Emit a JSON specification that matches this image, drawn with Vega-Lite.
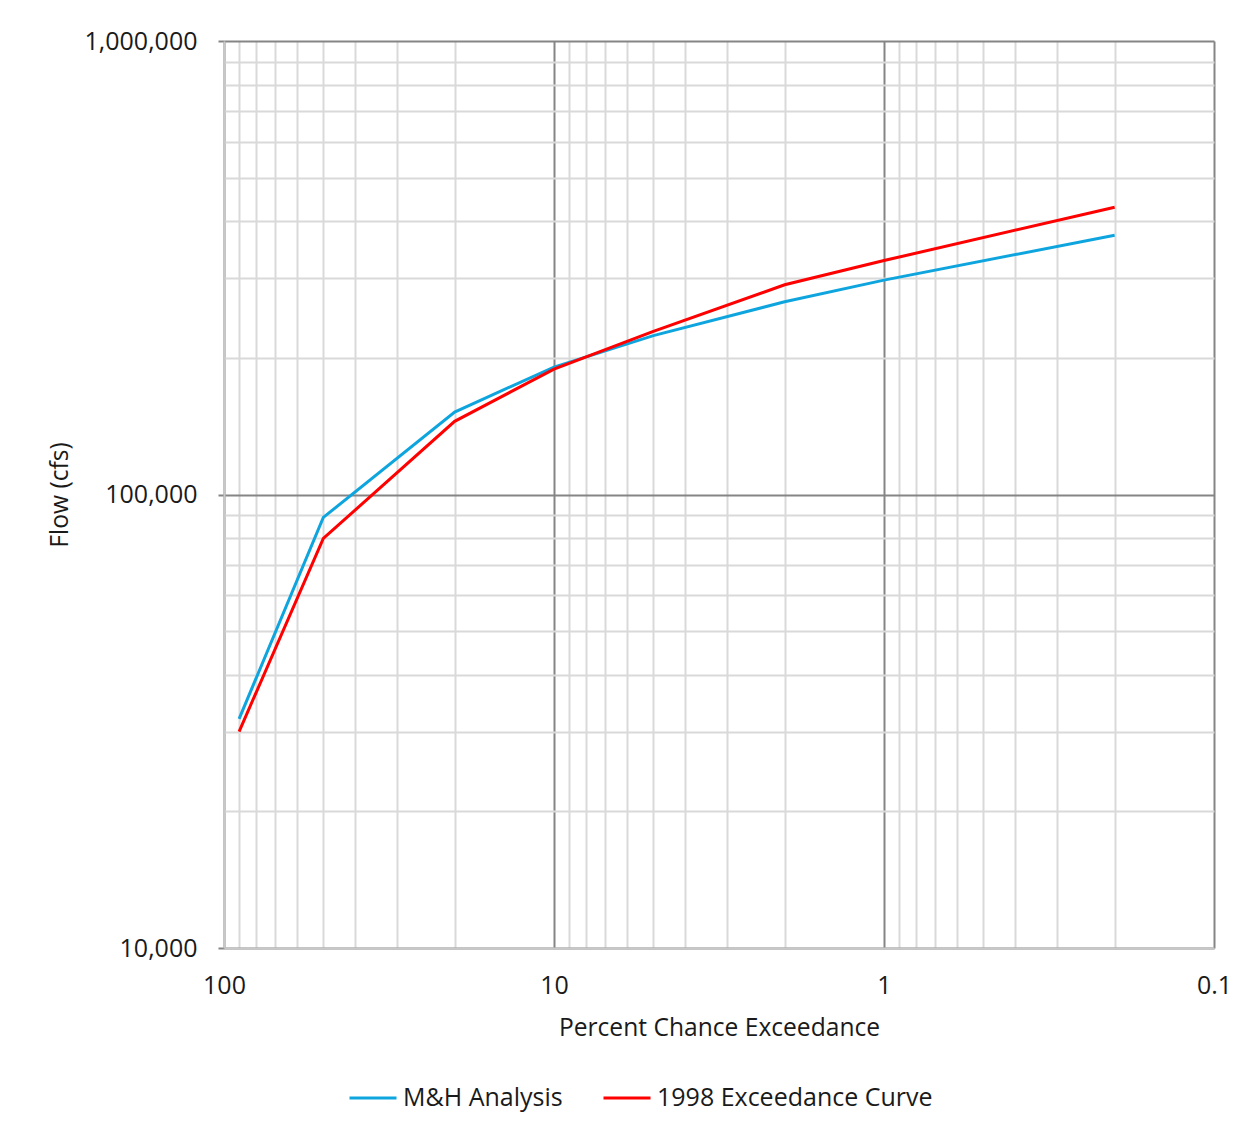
{
  "$schema": "https://vega.github.io/schema/vega-lite/v6.json",
  "autosize": {"type": "none"},
  "width": 990,
  "height": 907,
  "padding": {"left": 224, "top": 41, "right": 44, "bottom": 183},
  "background": "white",
  "config": {
    "view": {"stroke": null},
    "font": "Open Sans",
    "axis": {
      "labelFont": "Open Sans",
      "titleFont": "Open Sans",
      "labelFontSize": 25,
      "titleFontSize": 24.6,
      "titleFontWeight": "normal",
      "labelColor": "#1a1a1a",
      "titleColor": "#1a1a1a",
      "domainColor": "#c8c8c8",
      "domainWidth": 2,
      "gridWidth": 2
    },
    "legend": {
      "labelFont": "Open Sans",
      "labelFontSize": 25,
      "labelColor": "#1a1a1a"
    }
  },
  "data": {
    "values": [
      {"series": "M&H Analysis", "pct": 90, "flow": 32000},
      {"series": "M&H Analysis", "pct": 50, "flow": 89000},
      {"series": "M&H Analysis", "pct": 20, "flow": 152000},
      {"series": "M&H Analysis", "pct": 10, "flow": 191000},
      {"series": "M&H Analysis", "pct": 5, "flow": 224000},
      {"series": "M&H Analysis", "pct": 2, "flow": 266000},
      {"series": "M&H Analysis", "pct": 1, "flow": 297000},
      {"series": "M&H Analysis", "pct": 0.2, "flow": 373000},
      {"series": "1998 Exceedance Curve", "pct": 90, "flow": 30000},
      {"series": "1998 Exceedance Curve", "pct": 50, "flow": 80000},
      {"series": "1998 Exceedance Curve", "pct": 20, "flow": 145000},
      {"series": "1998 Exceedance Curve", "pct": 10, "flow": 189000},
      {"series": "1998 Exceedance Curve", "pct": 5, "flow": 229000},
      {"series": "1998 Exceedance Curve", "pct": 2, "flow": 290000},
      {"series": "1998 Exceedance Curve", "pct": 1, "flow": 328000},
      {"series": "1998 Exceedance Curve", "pct": 0.2, "flow": 430000}
    ]
  },
  "mark": {"type": "line", "strokeWidth": 3, "clip": true},
  "encoding": {
    "x": {
      "field": "pct",
      "type": "quantitative",
      "scale": {"type": "log", "domain": [100, 0.1], "nice": false},
      "axis": {
        "title": "Percent Chance Exceedance",
        "values": [100, 90, 80, 70, 60, 50, 40, 30, 20, 10, 9, 8, 7, 6, 5, 4, 3, 2, 1, 0.9, 0.8, 0.7, 0.6, 0.5, 0.4, 0.3, 0.2, 0.1],
        "labelExpr": "abs(log(datum.value)/LN10 - round(log(datum.value)/LN10)) < 1e-6 ? format(datum.value, ',') : ''",
        "labelOverlap": false,
        "labelFlush": false,
        "labelBound": false,
        "ticks": false,
        "labelPadding": 25,
        "titlePadding": 18,
        "gridColor": {"condition": {"test": "abs(log(datum.value)/LN10 - round(log(datum.value)/LN10)) < 1e-6", "value": "#858585"}, "value": "#d9d9d9"}
      }
    },
    "y": {
      "field": "flow",
      "type": "quantitative",
      "scale": {"type": "log", "domain": [10000, 1000000], "nice": false},
      "axis": {
        "title": "Flow (cfs)",
        "values": [10000, 20000, 30000, 40000, 50000, 60000, 70000, 80000, 90000, 100000, 200000, 300000, 400000, 500000, 600000, 700000, 800000, 900000, 1000000],
        "labelExpr": "abs(log(datum.value)/LN10 - round(log(datum.value)/LN10)) < 1e-6 ? format(datum.value, ',') : ''",
        "labelOverlap": false,
        "labelBound": false,
        "labelFlush": false,
        "tickSize": 6,
        "tickWidth": 2,
        "tickColor": {"condition": {"test": "abs(log(datum.value)/LN10 - round(log(datum.value)/LN10)) < 1e-6", "value": "#858585"}, "value": "transparent"},
        "labelPadding": 21,
        "titlePadding": 11,
        "gridColor": {"condition": {"test": "abs(log(datum.value)/LN10 - round(log(datum.value)/LN10)) < 1e-6", "value": "#858585"}, "value": "#d9d9d9"}
      }
    },
    "color": {
      "field": "series",
      "type": "nominal",
      "sort": ["M&H Analysis", "1998 Exceedance Curve"],
      "scale": {"domain": ["M&H Analysis", "1998 Exceedance Curve"], "range": ["#0EA5DF", "#FF0000"]},
      "legend": {
        "title": null,
        "orient": "none",
        "direction": "horizontal",
        "legendX": 124,
        "legendY": 1032,
        "symbolType": "stroke",
        "symbolSize": 2209,
        "symbolStrokeWidth": 3,
        "labelOffset": 5,
        "columnPadding": 34,
        "labelLimit": 400
      }
    }
  }
}
